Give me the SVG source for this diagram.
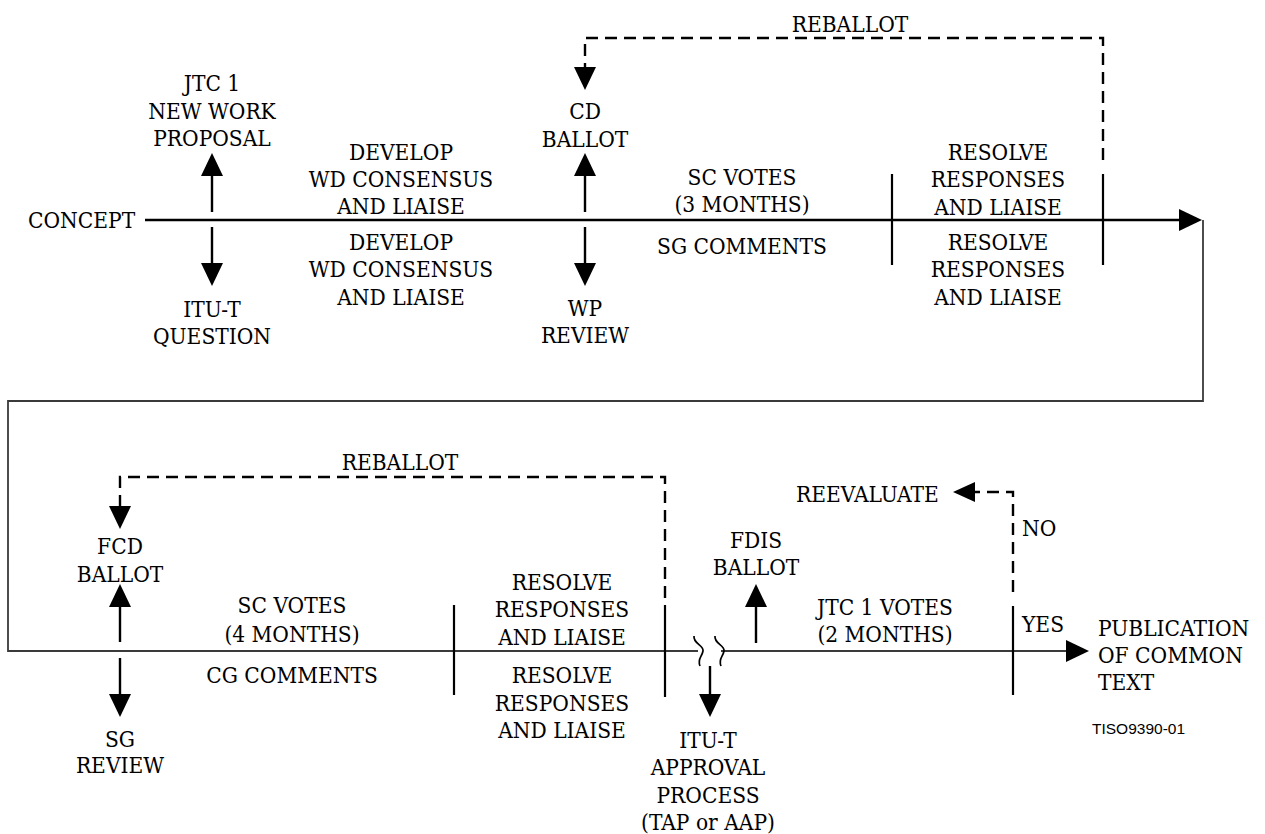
<svg xmlns="http://www.w3.org/2000/svg" xmlns:xlink="http://www.w3.org/1999/xlink" width="1265" height="834" viewBox="0 0 1265 834">
<style>
.t{font-family:'DejaVu Serif Condensed','DejaVu Serif',serif;font-stretch:condensed;font-size:22.5px;fill:#000;text-anchor:middle}
.s{text-anchor:start}
.code{font-family:'Liberation Sans',Arial,sans-serif;font-size:15.5px;fill:#000}
.main{stroke:#000;stroke-width:2.4;fill:none}
.ret{stroke:#3a3a3a;stroke-width:1.8;fill:none}
.dash{stroke:#000;stroke-width:2.4;fill:none;stroke-dasharray:12 7}
.div{stroke:#000;stroke-width:2.2;fill:none}
.sq{stroke:#000;stroke-width:1.7;fill:none}
.ah{fill:#000}
</style>
<defs>
<path id="ahD" d="M-11,0 H11 L0,23 Z"/>
<path id="ahU" d="M-11,0 H11 L0,-23 Z"/>
<path id="ahR" d="M0,-11 V11 L23,0 Z"/>
<path id="ahL" d="M0,-10 V10 L-22,0 Z"/>
</defs>
<rect width="1265" height="834" fill="#fff"/>

<g id="connectors">
  <path class="main" d="M145,220 H1180"/>
  <use class="ah" xlink:href="#ahR" x="1179" y="220"/>
  <path class="ret" d="M1203,220 V401 H8 V651 H698"/>
  <path class="ret" d="M721,651 H1067"/>
  <use class="ah" xlink:href="#ahR" x="1066" y="651"/>
  <path class="sq" d="M694,636 C693,644 704,645 703,651 C702,657 697,659 700,666"/>
  <path class="sq" d="M715,636 C714,644 725,645 724,651 C723,657 718,659 721,666"/>
  <path class="main" d="M212,176 V212 M212,227 V264 M585,176 V212 M585,227 V264"/>
  <use class="ah" xlink:href="#ahU" x="212" y="176"/>
  <use class="ah" xlink:href="#ahD" x="212" y="263"/>
  <use class="ah" xlink:href="#ahU" x="585" y="176"/>
  <use class="ah" xlink:href="#ahD" x="585" y="263"/>
  <path class="main" d="M120,607 V642 M120,658 V695 M710,666 V695 M756,607 V643"/>
  <use class="ah" xlink:href="#ahU" x="120" y="607"/>
  <use class="ah" xlink:href="#ahD" x="120" y="694"/>
  <use class="ah" xlink:href="#ahD" x="710" y="694"/>
  <use class="ah" xlink:href="#ahU" x="756" y="607"/>
  <path class="dash" d="M1103,160 V38 H585 V68"/>
  <use class="ah" xlink:href="#ahD" x="585" y="67"/>
  <path class="dash" d="M665,598 V477 H120 V507"/>
  <use class="ah" xlink:href="#ahD" x="120" y="506"/>
  <path class="dash" d="M1013,592 V492 H975"/>
  <use class="ah" xlink:href="#ahL" x="975" y="492"/>
  <path class="div" d="M892,174 V265 M1103,174 V265 M454,605 V695 M665,605 V697 M1013,606 V695"/>
</g>

<g id="concept"><text class="t s" x="28" y="228">CONCEPT</text></g>
<g id="jtc1-nwp"><text class="t"><tspan x="212" y="91">JTC 1</tspan><tspan x="212" y="118.5">NEW WORK</tspan><tspan x="212" y="146">PROPOSAL</tspan></text></g>
<g id="itu-question"><text class="t"><tspan x="212" y="317">ITU-T</tspan><tspan x="212" y="344">QUESTION</tspan></text></g>
<g id="develop-top"><text class="t"><tspan x="401" y="160">DEVELOP</tspan><tspan x="401" y="187">WD CONSENSUS</tspan><tspan x="401" y="214">AND LIAISE</tspan></text></g>
<g id="develop-bottom"><text class="t"><tspan x="401" y="250">DEVELOP</tspan><tspan x="401" y="277">WD CONSENSUS</tspan><tspan x="401" y="305">AND LIAISE</tspan></text></g>
<g id="cd-ballot"><text class="t"><tspan x="585" y="119">CD</tspan><tspan x="585" y="147">BALLOT</tspan></text></g>
<g id="wp-review"><text class="t"><tspan x="585" y="316">WP</tspan><tspan x="585" y="343">REVIEW</tspan></text></g>
<g id="reballot-1"><text class="t" x="850" y="32">REBALLOT</text></g>
<g id="sc-votes-3"><text class="t"><tspan x="742" y="185">SC VOTES</tspan><tspan x="742" y="212">(3 MONTHS)</tspan></text></g>
<g id="sg-comments"><text class="t" x="742" y="254">SG COMMENTS</text></g>
<g id="resolve-top-1"><text class="t"><tspan x="998" y="160">RESOLVE</tspan><tspan x="998" y="187">RESPONSES</tspan><tspan x="998" y="215">AND LIAISE</tspan></text></g>
<g id="resolve-bottom-1"><text class="t"><tspan x="998" y="250">RESOLVE</tspan><tspan x="998" y="277">RESPONSES</tspan><tspan x="998" y="305">AND LIAISE</tspan></text></g>

<g id="reballot-2"><text class="t" x="400" y="470">REBALLOT</text></g>
<g id="fcd-ballot"><text class="t"><tspan x="120" y="554">FCD</tspan><tspan x="120" y="582">BALLOT</tspan></text></g>
<g id="sg-review"><text class="t"><tspan x="120" y="747">SG</tspan><tspan x="120" y="773">REVIEW</tspan></text></g>
<g id="sc-votes-4"><text class="t"><tspan x="292" y="613">SC VOTES</tspan><tspan x="292" y="642">(4 MONTHS)</tspan></text></g>
<g id="cg-comments"><text class="t" x="292" y="683">CG COMMENTS</text></g>
<g id="resolve-top-2"><text class="t"><tspan x="562" y="590">RESOLVE</tspan><tspan x="562" y="617">RESPONSES</tspan><tspan x="562" y="645">AND LIAISE</tspan></text></g>
<g id="resolve-bottom-2"><text class="t"><tspan x="562" y="683">RESOLVE</tspan><tspan x="562" y="711">RESPONSES</tspan><tspan x="562" y="738">AND LIAISE</tspan></text></g>
<g id="itu-approval"><text class="t"><tspan x="708" y="748">ITU-T</tspan><tspan x="708" y="775">APPROVAL</tspan><tspan x="708" y="803">PROCESS</tspan><tspan x="708" y="830">(TAP or AAP)</tspan></text></g>
<g id="fdis-ballot"><text class="t"><tspan x="756" y="548">FDIS</tspan><tspan x="756" y="575">BALLOT</tspan></text></g>
<g id="jtc1-votes"><text class="t"><tspan x="885" y="615">JTC 1 VOTES</tspan><tspan x="885" y="642">(2 MONTHS)</tspan></text></g>
<g id="reevaluate"><text class="t s" x="796" y="502">REEVALUATE</text></g>
<g id="no"><text class="t s" x="1022" y="536">NO</text></g>
<g id="yes"><text class="t s" x="1022" y="632">YES</text></g>
<g id="publication"><text class="t s"><tspan x="1098" y="636">PUBLICATION</tspan><tspan x="1098" y="663">OF COMMON</tspan><tspan x="1098" y="690">TEXT</tspan></text></g>
<g id="figure-code"><text class="code" x="1092" y="734">TISO9390-01</text></g>
</svg>
